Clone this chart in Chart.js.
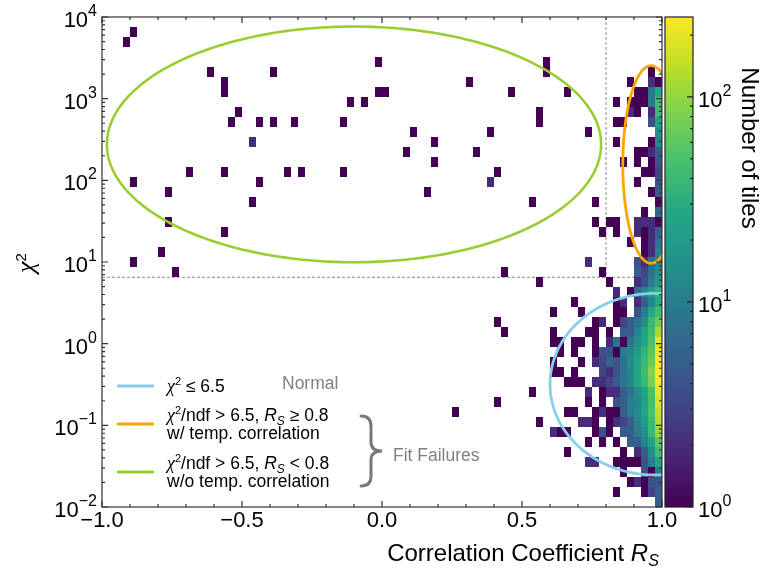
<!DOCTYPE html>
<html>
<head>
<meta charset="utf-8">
<script src="https://cdn.jsdelivr.net/npm/chart.js@4/dist/chart.umd.min.js"></script>
<style>
  html, body { margin: 0; padding: 0; background: #fff; }
</style>
</head>
<body>
<canvas id="myChart" width="763" height="572"></canvas>
<script>
// histogram binning: 80 linear bins in R_S, 49 log bins in chi2 (1e-2 .. 1e4)
const xEdgeMin = -1, xBinWidth = 0.025;
const yLogMin = -2, yLogBinWidth = 6 / 49;

// isolated tiles: [xBin, yBin, count]
const sparseTiles = [
    [3, 46, 1], [4, 47, 1], [15, 43, 1], [17, 42, 1], [17, 41, 1], [24, 43, 1],
    [19, 39, 1], [18, 38, 1], [22, 38, 1], [24, 38, 1], [27, 38, 1], [34, 38, 1],
    [35, 40, 1], [37, 40, 1], [39, 44, 1], [39, 41, 1], [40, 41, 1], [21, 36, 2],
    [12, 33, 1], [17, 33, 1], [26, 33, 1], [28, 33, 1], [34, 33, 1], [4, 32, 1],
    [22, 32, 1], [9, 31, 1], [21, 30, 1], [9, 28, 1], [17, 27, 1], [8, 25, 1],
    [4, 24, 1], [10, 23, 1], [52, 42, 1], [58, 41, 1], [44, 37, 1], [47, 36, 1],
    [43, 35, 1], [53, 35, 1], [55, 37, 1], [47, 34, 1], [56, 33, 1], [55, 32, 2],
    [46, 31, 1], [57, 23, 1], [56, 18, 1], [57, 17, 1], [56, 10, 1], [50, 9, 1]
];

// tiles of x bins 60..79 (R_S 0.5 .. 1.0), one row per y bin from 44 down to 0
const denseFirstX = 60;
const denseTopY = 44;
const denseRows = [
    [0, 0, 0, 1, 0, 0, 0, 0, 0, 0, 0, 0, 0, 0, 0, 0, 0, 0, 0, 0],
    [0, 0, 0, 1, 0, 0, 0, 0, 0, 0, 0, 0, 0, 0, 0, 0, 0, 0, 1, 0],
    [0, 0, 0, 0, 0, 0, 0, 0, 0, 0, 0, 0, 0, 0, 0, 1, 0, 0, 2, 1],
    [0, 0, 0, 0, 0, 0, 1, 0, 0, 0, 0, 0, 0, 0, 0, 0, 1, 1, 9, 25],
    [0, 0, 0, 0, 0, 0, 0, 0, 0, 0, 0, 0, 0, 1, 0, 1, 1, 1, 9, 45],
    [0, 0, 1, 0, 0, 0, 0, 0, 0, 0, 0, 0, 0, 0, 0, 2, 1, 0, 2, 40],
    [0, 0, 1, 0, 0, 0, 0, 0, 0, 0, 0, 0, 0, 1, 1, 0, 0, 0, 4, 25],
    [0, 0, 0, 0, 0, 0, 0, 0, 0, 1, 0, 0, 0, 0, 0, 0, 0, 0, 0, 14],
    [0, 0, 0, 0, 0, 0, 0, 0, 0, 0, 0, 0, 0, 1, 0, 0, 0, 0, 1, 12],
    [0, 0, 0, 0, 0, 0, 0, 0, 0, 0, 0, 0, 0, 0, 0, 0, 1, 1, 2, 5],
    [0, 0, 0, 0, 0, 0, 0, 0, 0, 0, 0, 0, 0, 0, 1, 0, 1, 0, 1, 4],
    [0, 0, 0, 0, 0, 0, 0, 0, 0, 0, 0, 0, 0, 0, 0, 0, 0, 1, 1, 3],
    [0, 0, 0, 0, 0, 0, 0, 0, 0, 0, 0, 0, 0, 0, 0, 0, 1, 0, 0, 4],
    [0, 0, 0, 0, 0, 0, 0, 0, 0, 0, 0, 0, 0, 0, 0, 0, 0, 0, 1, 5],
    [0, 1, 0, 0, 0, 0, 0, 0, 0, 0, 1, 0, 0, 0, 0, 0, 0, 0, 0, 1],
    [0, 0, 0, 0, 0, 0, 0, 0, 0, 0, 0, 0, 0, 0, 0, 0, 0, 1, 0, 6],
    [0, 0, 0, 0, 0, 0, 0, 0, 0, 0, 1, 0, 1, 1, 0, 0, 2, 2, 2, 1],
    [0, 0, 0, 0, 0, 0, 0, 0, 0, 0, 0, 1, 0, 1, 0, 0, 2, 1, 2, 5],
    [0, 0, 0, 0, 0, 0, 0, 0, 0, 0, 0, 0, 0, 0, 0, 1, 0, 1, 2, 8],
    [0, 0, 0, 0, 0, 0, 0, 0, 0, 0, 0, 0, 0, 0, 0, 0, 0, 1, 2, 10],
    [0, 0, 0, 0, 0, 0, 0, 0, 0, 2, 0, 0, 0, 0, 0, 0, 4, 2, 7, 12],
    [0, 0, 0, 0, 0, 0, 0, 0, 0, 0, 0, 1, 0, 0, 0, 0, 5, 3, 8, 15],
    [0, 0, 1, 0, 0, 0, 0, 0, 0, 0, 0, 0, 1, 0, 0, 0, 2, 4, 10, 20],
    [0, 0, 0, 0, 0, 0, 0, 0, 0, 0, 0, 0, 0, 2, 0, 1, 7, 12, 22, 35],
    [0, 0, 0, 0, 0, 0, 0, 1, 0, 0, 0, 0, 0, 1, 2, 0, 2, 5, 12, 28],
    [0, 0, 0, 0, 1, 0, 0, 0, 1, 0, 0, 0, 0, 1, 1, 0, 4, 10, 28, 45],
    [0, 0, 0, 0, 0, 0, 0, 0, 0, 0, 1, 2, 0, 1, 3, 5, 8, 15, 40, 70],
    [0, 0, 0, 0, 1, 0, 0, 0, 0, 1, 1, 0, 1, 0, 5, 5, 12, 25, 45, 120],
    [0, 0, 0, 0, 1, 1, 0, 1, 1, 0, 1, 0, 2, 8, 1, 8, 15, 25, 50, 200],
    [0, 0, 0, 0, 0, 1, 0, 1, 0, 0, 1, 4, 4, 1, 10, 12, 20, 35, 60, 220],
    [0, 0, 0, 0, 1, 0, 0, 0, 1, 0, 2, 3, 6, 4, 8, 15, 25, 40, 70, 240],
    [0, 0, 0, 0, 1, 1, 0, 1, 0, 0, 0, 3, 2, 4, 8, 12, 25, 45, 90, 245],
    [0, 0, 0, 0, 0, 0, 1, 1, 1, 0, 2, 2, 3, 5, 9, 12, 25, 40, 80, 230],
    [0, 1, 0, 0, 0, 0, 0, 0, 0, 2, 0, 1, 2, 2, 5, 8, 14, 25, 50, 200],
    [0, 0, 0, 0, 0, 0, 0, 0, 0, 1, 0, 1, 0, 4, 5, 10, 12, 22, 45, 180],
    [0, 0, 0, 0, 0, 0, 1, 1, 0, 0, 1, 2, 1, 1, 5, 10, 14, 25, 50, 150],
    [0, 0, 1, 0, 0, 0, 0, 0, 2, 2, 1, 0, 1, 2, 3, 5, 12, 20, 40, 130],
    [0, 0, 0, 0, 2, 1, 1, 0, 0, 0, 1, 4, 1, 0, 5, 5, 10, 15, 40, 100],
    [0, 0, 0, 0, 0, 0, 0, 0, 0, 1, 0, 1, 0, 1, 0, 5, 5, 12, 25, 60],
    [0, 0, 0, 0, 0, 0, 1, 0, 0, 0, 0, 0, 0, 0, 1, 0, 2, 5, 15, 45],
    [0, 0, 0, 0, 0, 0, 0, 0, 0, 2, 2, 0, 0, 1, 1, 1, 1, 4, 10, 25],
    [0, 0, 0, 0, 0, 0, 0, 0, 0, 0, 0, 0, 0, 0, 1, 0, 0, 4, 1, 10],
    [0, 0, 0, 0, 0, 0, 0, 0, 0, 0, 0, 0, 0, 0, 0, 1, 2, 1, 4, 4],
    [0, 0, 0, 0, 0, 0, 0, 0, 0, 0, 0, 0, 0, 1, 0, 0, 0, 1, 3, 5],
    [0, 0, 0, 0, 0, 0, 0, 0, 0, 0, 0, 0, 0, 0, 0, 0, 0, 0, 0, 5]
];

const xTicks = [-1, -0.5, 0, 0.5, 1];
const xTickLabels = ['\u22121.0', '\u22120.5', '0.0', '0.5', '1.0'];
const yTickExps = [-2, -1, 0, 1, 2, 3, 4];
const cbarTickExps = [0, 1, 2];
const cbarMax = 245;

const chi2Cut = 6.5;
const rsCut = 0.8;

// selection regions: [R_S centre, log10 chi2 centre, R_S half width, half height in decades]
const normalRegion = [0.975, -0.496, 0.375, 1.112];
const corrRegion = [0.961, 2.194, 0.101, 1.21];
const noCorrRegion = [-0.1, 2.44, 0.8825, 1.443];

const VIRIDIS = ['#440154', '#482475', '#414487', '#355f8d', '#2a788e', '#21918c',
    '#22a884', '#44bf70', '#7ad151', '#bddf26', '#fde725'];

const SANS = '"Liberation Sans", Arial, sans-serif';
const SERIF = '"Liberation Serif", "DejaVu Serif", serif';
const cbarLeft = 665, cbarWidth = 28;

const hexRgb = (h) => [1, 3, 5].map(i => parseInt(h.slice(i, i + 2), 16));

const viridis = (t) => {
    t = Math.min(1, Math.max(0, t));
    const s = t * 10, i = Math.min(9, Math.floor(s)), f = s - i;
    const a = hexRgb(VIRIDIS[i]), b = hexRgb(VIRIDIS[i + 1]);
    const c = a.map((v, k) => Math.round(v + (b[k] - v) * f));
    return `rgb(${c[0]},${c[1]},${c[2]})`;
};

const allTiles = () => {
    let tiles = sparseTiles.slice();
    denseRows.forEach((row, r) => {
        row.forEach((n, p) => {
            if (n > 0) tiles.push([denseFirstX + p, denseTopY - r, n]);
        });
    });
    return tiles;
};

const drawRuns = (c, x, y, runs, align) => {
    let w = 0;
    runs.forEach(r => { c.font = r.font; w += c.measureText(r.text).width; });
    let px = align === 'center' ? x - w / 2 : (align === 'right' ? x - w : x);
    c.textAlign = 'left';
    c.textBaseline = 'alphabetic';
    runs.forEach(r => {
        c.font = r.font;
        c.fillText(r.text, px, y + (r.dy || 0));
        px += c.measureText(r.text).width;
    });
};

const powRuns = (e) => [
    { text: '10', font: '22px ' + SANS },
    { text: e < 0 ? '\u2212' + (-e) : String(e), font: '16px ' + SANS, dy: -11 }
];

const drawTiles = (chart) => {
    const { ctx: c, scales: { x, y } } = chart;
    allTiles().forEach(([i, j, n]) => {
        const x0 = Math.round(x.getPixelForValue(xEdgeMin + i * xBinWidth));
        const x1 = Math.round(x.getPixelForValue(xEdgeMin + (i + 1) * xBinWidth));
        const y0 = Math.round(y.getPixelForValue(Math.pow(10, yLogMin + (j + 1) * yLogBinWidth)));
        const y1 = Math.round(y.getPixelForValue(Math.pow(10, yLogMin + j * yLogBinWidth)));
        c.fillStyle = viridis(Math.log(n) / Math.log(cbarMax));
        c.fillRect(x0, y0, x1 - x0, y1 - y0);
    });
};

const drawCuts = (chart) => {
    const { ctx: c, chartArea: a, scales: { x, y } } = chart;
    const yc = y.getPixelForValue(chi2Cut);
    const xc = x.getPixelForValue(rsCut);
    c.save();
    c.strokeStyle = '#888';
    c.lineWidth = 1;
    c.setLineDash([3, 2]);
    c.beginPath();
    c.moveTo(a.left, yc); c.lineTo(a.right, yc);
    c.moveTo(xc, a.top); c.lineTo(xc, yc);
    c.stroke();
    c.restore();
};

const drawRegion = (chart, reg, color, width) => {
    const { ctx: c, chartArea: a, scales: { x, y } } = chart;
    const [cx, cy, rx, ry] = reg;
    c.save();
    c.beginPath();
    c.rect(a.left, a.top, a.right - a.left, a.bottom - a.top);
    c.clip();
    c.beginPath();
    for (let k = 0; k <= 240; k++) {
        const t = k / 240 * 2 * Math.PI;
        const px = x.getPixelForValue(cx + rx * Math.cos(t));
        const py = y.getPixelForValue(Math.pow(10, cy + ry * Math.sin(t)));
        if (k === 0) c.moveTo(px, py); else c.lineTo(px, py);
    }
    c.closePath();
    c.strokeStyle = color;
    c.lineWidth = width;
    c.stroke();
    c.restore();
};

const drawFrame = (chart) => {
    const { ctx: c, chartArea: a, scales: { x, y } } = chart;
    c.save();
    c.strokeStyle = '#333';
    c.lineWidth = 1.2;
    c.beginPath();
    // x ticks, bottom and top, pointing inward
    for (let k = -10; k <= 10; k++) {
        const v = k / 10;
        const px = x.getPixelForValue(v);
        const len = k % 5 === 0 ? 6 : 3;
        c.moveTo(px, a.bottom); c.lineTo(px, a.bottom - len);
        c.moveTo(px, a.top); c.lineTo(px, a.top + len);
    }
    // log y ticks, left and right
    for (let e = -2; e <= 4; e++) {
        for (let m = 1; m <= 9; m++) {
            if (e === 4 && m > 1) break;
            const py = y.getPixelForValue(m * Math.pow(10, e));
            const len = m === 1 ? 6 : 3;
            c.moveTo(a.left, py); c.lineTo(a.left + len, py);
            c.moveTo(a.right, py); c.lineTo(a.right - len, py);
        }
    }
    c.stroke();
    c.strokeRect(a.left, a.top, a.right - a.left, a.bottom - a.top);
    c.restore();

    c.fillStyle = '#000';
    xTicks.forEach((v, i) => {
        c.font = '22px ' + SANS;
        c.textAlign = 'center';
        c.fillText(xTickLabels[i], x.getPixelForValue(v), a.bottom + 20);
    });
    yTickExps.forEach(e => {
        drawRuns(c, a.left - 5, y.getPixelForValue(Math.pow(10, e)) + 10, powRuns(e), 'right');
    });

    // axis titles
    drawRuns(c, 523, 561, [
        { text: 'Correlation Coefficient ', font: '24px ' + SANS },
        { text: 'R', font: 'italic 24px ' + SANS },
        { text: 'S', font: 'italic 16px ' + SANS, dy: 5 }
    ], 'center');

    c.save();
    c.translate(34, 263);
    c.rotate(-Math.PI / 2);
    drawRuns(c, 0, 0, [
        { text: '\u03c7', font: 'italic 26px ' + SERIF },
        { text: '2', font: '15px ' + SANS, dy: -8 }
    ], 'center');
    c.restore();
};

const drawColorbar = (chart) => {
    const { ctx: c } = chart;
    const cb = chart.scales.cbar;
    const top = cb.getPixelForValue(cbarMax), bot = cb.getPixelForValue(1);
    const g = c.createLinearGradient(0, bot, 0, top);
    VIRIDIS.forEach((col, i) => g.addColorStop(i / 10, col));
    c.fillStyle = g;
    c.fillRect(cbarLeft, top, cbarWidth, bot - top);

    c.save();
    c.strokeStyle = '#222';
    c.lineWidth = 1.2;
    c.strokeRect(cbarLeft, top, cbarWidth, bot - top);
    c.beginPath();
    const right = cbarLeft + cbarWidth;
    cbarTickExps.forEach(e => {
        for (let m = 1; m <= 9; m++) {
            const v = m * Math.pow(10, e);
            if (v > cbarMax) break;
            const py = cb.getPixelForValue(v);
            const len = m === 1 ? 6 : 3;
            c.moveTo(right, py); c.lineTo(right - len, py);
        }
    });
    c.stroke();
    c.restore();

    c.fillStyle = '#000';
    cbarTickExps.forEach(e => {
        drawRuns(c, right + 5, cb.getPixelForValue(Math.pow(10, e)) + 10, powRuns(e), 'left');
    });

    c.save();
    c.translate(742, 148);
    c.rotate(Math.PI / 2);
    c.font = '24px ' + SANS;
    c.textAlign = 'center';
    c.fillStyle = '#000';
    c.fillText('Number of tiles', 0, 0);
    c.restore();
};

const drawLegend = (chart) => {
    const { ctx: c } = chart;
    const entries = [
        { color: '#87ceeb', y: 386 },
        { color: '#ffa500', y: 424 },
        { color: '#9acd32', y: 472 }
    ];
    c.save();
    c.lineWidth = 3;
    entries.forEach(en => {
        c.strokeStyle = en.color;
        c.beginPath();
        c.moveTo(117, en.y); c.lineTo(154, en.y);
        c.stroke();
    });
    c.restore();

    const chi = { text: '\u03c7', font: 'italic 18px ' + SERIF };
    const two = { text: '2', font: '11px ' + SANS, dy: -7 };
    const txt = (s) => ({ text: s, font: '17.5px ' + SANS });
    const rs = [{ text: 'R', font: 'italic 17.5px ' + SANS }, { text: 'S', font: 'italic 12px ' + SANS, dy: 4 }];

    c.fillStyle = '#000';
    drawRuns(c, 167, 392, [chi, two, txt(' \u2264 6.5')], 'left');
    drawRuns(c, 167, 421, [chi, two, txt('/ndf > 6.5, '), ...rs, txt(' \u2265 0.8')], 'left');
    drawRuns(c, 167, 439, [txt('w/ temp. correlation')], 'left');
    drawRuns(c, 167, 469, [chi, two, txt('/ndf > 6.5, '), ...rs, txt(' < 0.8')], 'left');
    drawRuns(c, 167, 487, [txt('w/o temp. correlation')], 'left');

    c.fillStyle = '#808080';
    drawRuns(c, 282, 389, [txt('Normal')], 'left');
    drawRuns(c, 393, 461, [txt('Fit Failures')], 'left');

    // curly brace grouping the two failure classes
    c.save();
    c.strokeStyle = '#7a7a7a';
    c.lineWidth = 3;
    c.lineCap = 'round';
    c.beginPath();
    c.moveTo(361, 416);
    c.quadraticCurveTo(371, 416, 371, 426);
    c.lineTo(371, 442);
    c.quadraticCurveTo(371, 451, 382, 451);
    c.quadraticCurveTo(371, 451, 371, 460);
    c.lineTo(371, 476);
    c.quadraticCurveTo(371, 486, 361, 486);
    c.stroke();
    c.restore();
};

const histPlugin = {
    id: 'histPlugin',
    beforeDraw(chart) {
        const c = chart.ctx;
        c.save();
        c.fillStyle = '#fff';
        c.fillRect(0, 0, chart.width, chart.height);
        c.restore();
    },
    afterDraw(chart) {
        drawCuts(chart);
        drawTiles(chart);
        drawRegion(chart, noCorrRegion, '#9acd32', 2.6);
        drawRegion(chart, corrRegion, '#ffa500', 2.8);
        drawRegion(chart, normalRegion, '#87ceeb', 2.8);
        drawFrame(chart);
        drawColorbar(chart);
        drawLegend(chart);
    }
};

var ctx = document.getElementById('myChart').getContext('2d');
var myChart = new Chart(ctx, {
    type: 'scatter',
    data: { datasets: [] },
    options: {
        responsive: false,
        animation: false,
        layout: { padding: { left: 102, right: 101, top: 17, bottom: 65 } },
        plugins: { legend: { display: false }, tooltip: { enabled: false } },
        scales: {
            x: { type: 'linear', min: -1, max: 1, display: false },
            y: { type: 'logarithmic', min: 0.01, max: 10000, display: false },
            cbar: { type: 'logarithmic', axis: 'y', min: 1, max: cbarMax, display: false }
        }
    },
    plugins: [histPlugin]
});
</script>
</body>
</html>
